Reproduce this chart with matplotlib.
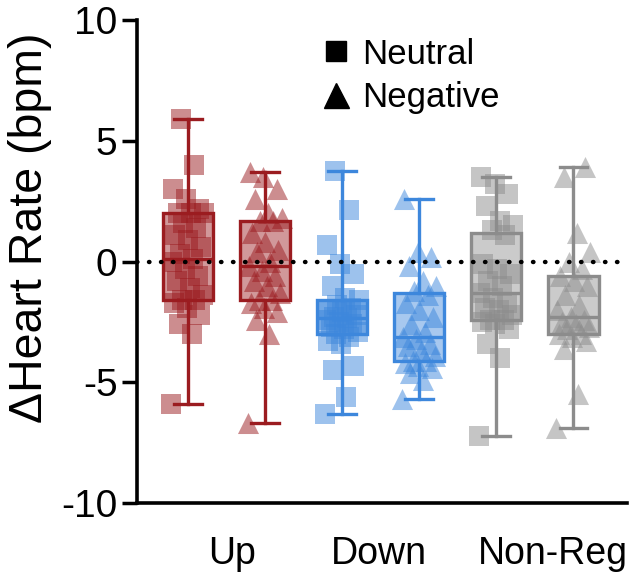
import numpy as np
import matplotlib.pyplot as plt
from matplotlib.colors import to_rgb
from matplotlib.lines import Line2D

plt.rcParams['font.family'] = ['Liberation Sans', 'DejaVu Sans']

groups = ["Up", "Down", "Non-Reg"]
conditions = ["Neutral", "Negative"]

up_neutral = [-5.9, -3.0, -2.6, -2.2, -1.9, -1.7, -1.6, -1.6, -1.4, -1.1, -0.8, -0.6, -0.3, 0.0,
              0.1, 0.3, 0.6, 0.9, 1.1, 1.4, 1.6, 2.0, 2.0, 2.0, 2.2, 2.6, 3.0, 4.0, 5.9]
up_negative = [-6.7, -3.0, -2.4, -2.1, -1.9, -1.7, -1.6, -1.6, -1.3, -1.0, -0.8, -0.6, -0.4, -0.2,
               0.0, 0.4, 0.5, 0.8, 1.2, 1.7, 1.7, 1.8, 2.0, 2.6, 3.0, 3.5, 3.7]
down_neutral = [-6.3, -5.6, -4.5, -4.3, -3.4, -3.3, -3.1, -3.0, -2.9, -2.8, -2.7, -2.6, -2.5, -2.4,
                -2.35, -2.3, -2.2, -2.1, -2.0, -1.9, -1.8, -1.6, -1.5, -1.0, -0.5, -0.1, 0.7, 2.15, 3.75]
down_negative = [-5.7, -4.9, -4.6, -4.4, -4.3, -4.2, -4.1, -4.1, -3.9, -3.7, -3.5, -3.4, -3.2, -3.1,
                 -2.9, -2.6, -2.3, -2.0, -1.7, -1.4, -1.2, -1.0, -0.8, -0.2, 0.2, 0.4, 2.6]
nonreg_neutral = [-7.2, -4.0, -3.4, -2.8, -2.6, -2.5, -2.4, -2.4, -2.2, -2.0, -1.9, -1.7, -1.5, -1.3,
                  -1.0, -0.8, -0.5, -0.3, -0.1, 1.1, 1.3, 1.5, 1.7, 2.3, 2.8, 3.2, 3.5]
nonreg_negative = [-6.9, -5.5, -3.6, -3.3, -3.1, -3.0, -3.0, -2.8, -2.7, -2.6, -2.5, -2.4, -2.3, -2.0,
                   -1.8, -1.4, -1.0, -0.8, -0.6, -0.3, 0.0, 0.4, 1.2, 3.5, 3.9]

series = [up_neutral, up_negative, down_neutral, down_negative, nonreg_neutral, nonreg_negative]
edge_colors = ["#9b1c20", "#9b1c20", "#3d87dc", "#3d87dc", "#8c8c8c", "#8c8c8c"]
markers = ["s", "^", "s", "^", "s", "^"]
positions = [0, 1, 2, 3, 4, 5]
label_pos = [0.57, 2.47, 4.73]

fig = plt.figure(figsize=(6.32, 5.77), dpi=100)
ax = fig.add_axes([0.2168, 0.128, 0.776, 0.837])

for vals, pos, col, mk in zip(series, positions, edge_colors, markers):
    vals = np.array(vals)
    # deterministic spread of points inside the box
    offs = ((np.arange(len(vals)) * 0.618) % 1 - 0.5) * 0.45
    ax.scatter(pos + offs, vals, marker=mk, s=200 if mk == "s" else 230,
               color=col, alpha=0.5, linewidths=0, zorder=2)
    bp = ax.boxplot([vals], positions=[pos], widths=0.65, whis=(0, 100),
                    patch_artist=True, showfliers=False, manage_ticks=False)
    for b in bp["boxes"]:
        b.set_facecolor((*to_rgb(col), 0.45))
        b.set_edgecolor(col)
        b.set_linewidth(2.4)
        b.set_zorder(3)
    for key in ["whiskers", "caps", "medians"]:
        for ln in bp[key]:
            ln.set_color(col)
            ln.set_linewidth(2.4)
            ln.set_zorder(3)
    for c in bp["caps"]:
        c.set_xdata([pos - 0.18, pos + 0.18])

ax.axhline(0, color="black", linestyle=(0, (0.1, 2.6)), linewidth=3.2,
           dash_capstyle="round", zorder=4)

ax.set_xlim(-0.66, 5.70)
ax.set_ylim(-10, 10)
ax.set_yticks([-10, -5, 0, 5, 10])
ax.set_yticklabels(["-10", "-5", "0", "5", "10"])
ax.set_xticks(label_pos)
ax.set_xticklabels(groups)
ax.tick_params(axis="y", labelsize=28, width=2.5, length=11, pad=3)
ax.tick_params(axis="x", labelsize=27, length=0, pad=24)
ax.set_ylabel("ΔHeart Rate (bpm)", fontsize=33.5)
ax.yaxis.set_label_coords(-0.173, 0.57)
for s in ["top", "right"]:
    ax.spines[s].set_visible(False)
for s in ["left", "bottom"]:
    ax.spines[s].set_linewidth(2.6)

handles = [Line2D([], [], marker="s", color="black", linestyle="none", markersize=14),
           Line2D([], [], marker="^", color="black", linestyle="none", markersize=18)]
ax.legend(handles, conditions, loc="upper left", bbox_to_anchor=(0.335, 1.0), frameon=False,
          fontsize=25, handletextpad=0.25, labelspacing=0.3, borderpad=0, handlelength=1.0)

fig.savefig("out.png", dpi=100)
